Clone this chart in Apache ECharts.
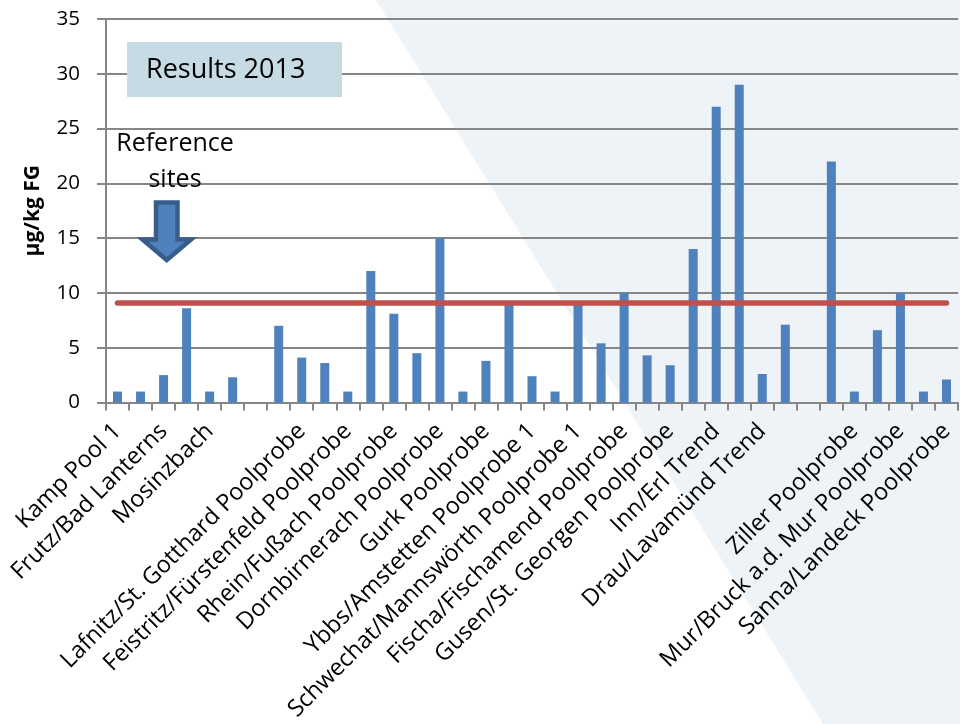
<!DOCTYPE html>
<html>
<head>
<meta charset="utf-8">
<script src="https://cdn.jsdelivr.net/npm/echarts@6/dist/echarts.min.js"></script>
<style>
html,body{margin:0;padding:0;background:#fff;}
#chart{width:960px;height:724px;}
</style>
</head>
<body>
<div id="chart"></div>
<script>
// Category slots (labels shown on every second slot in the original; unreadable ones left blank)
const categories = [
  'Kamp Pool 1', '', 'Frutz/Bad Lanterns', '', 'Mosinzbach', '', '', '',
  'Lafnitz/St. Gotthard Poolprobe', '', 'Feistritz/Fürstenfeld Poolprobe', '',
  'Rhein/Fußach Poolprobe', '', 'Dornbirnerach Poolprobe', '', 'Gurk Poolprobe', '',
  'Ybbs/Amstetten Poolprobe 1', '', 'Schwechat/Mannswörth Poolprobe 1', '',
  'Fischa/Fischamend Poolprobe', '', 'Gusen/St. Georgen Poolprobe', '',
  'Inn/Erl Trend', '', 'Drau/Lavamünd Trend', '', '', '',
  'Ziller Poolprobe', '', 'Mur/Bruck a.d. Mur Poolprobe', '', 'Sanna/Landeck Poolprobe'
];
const values = [
  1, 1, 2.5, 8.6, 1, 2.3, null, 7.0, 4.1, 3.6, 1, 12, 8.1, 4.5, 15, 1, 3.8, 9.0,
  2.4, 1, 9.0, 5.4, 10, 4.3, 3.4, 14, 27, 29, 2.6, 7.1, null, 22, 1, 6.6, 10, 1, 2.1
];
const limitValue = 9.1;
const yTicks = { min: 0, max: 35, interval: 5 };
const yAxisName = 'µg/kg FG';
const boxTitle = 'Results 2013';
const noteLines = ['Reference', 'sites'];

const FONT = '"Open Sans", sans-serif';
const chart = echarts.init(document.getElementById('chart'), null, { renderer: 'canvas' });
chart.setOption({
  animation: false,
  backgroundColor: '#ffffff',
  grid: { left: 106, right: 2, top: 19, bottom: 320, containLabel: false },
  xAxis: {
    type: 'category',
    data: categories,
    boundaryGap: true,
    axisLine: { show: true, lineStyle: { color: '#868686', width: 2 } },
    axisTick: { show: true, interval: 0, length: 8, lineStyle: { color: '#868686', width: 2 } },
    axisLabel: { interval: 0, rotate: 45, margin: 25, color: '#000', fontFamily: FONT, fontSize: 23.5 },
    splitLine: { show: false }
  },
  yAxis: {
    type: 'value',
    min: yTicks.min, max: yTicks.max, interval: yTicks.interval,
    name: yAxisName,
    nameLocation: 'middle',
    nameGap: 62,
    nameRotate: 90,
    nameTextStyle: { color: '#000', fontFamily: FONT, fontSize: 21, fontWeight: 'bold' },
    axisLine: { show: true, lineStyle: { color: '#868686', width: 2 } },
    axisTick: { show: true, length: 9, lineStyle: { color: '#868686', width: 2 } },
    axisLabel: { margin: 26, color: '#000', fontFamily: FONT, fontSize: 20.5 },
    splitLine: { show: true, lineStyle: { color: '#868686', width: 2 } }
  },
  graphic: [
    {
      type: 'polygon', z: -10, silent: true,
      shape: { points: [[376, 0], [960, 0], [960, 724], [823, 724]] },
      style: { fill: '#EEF3F7' }
    },
    {
      type: 'rect', z: 50, silent: true,
      shape: { x: 127, y: 42, width: 215, height: 55 },
      style: { fill: '#C7DBE5' }
    },
    {
      type: 'text', z: 51, silent: true,
      x: 146, y: 70,
      style: { text: boxTitle, fill: '#000', font: '27px ' + FONT, textAlign: 'left', textVerticalAlign: 'middle' }
    },
    {
      type: 'text', z: 51, silent: true,
      x: 175, y: 144,
      style: { text: noteLines[0], fill: '#000', font: '25px ' + FONT, textAlign: 'center', textVerticalAlign: 'middle' }
    },
    {
      type: 'text', z: 51, silent: true,
      x: 175, y: 180,
      style: { text: noteLines[1], fill: '#000', font: '25px ' + FONT, textAlign: 'center', textVerticalAlign: 'middle' }
    },
    {
      type: 'polygon', z: 51, silent: true,
      shape: { points: [[156, 202.5], [177.5, 202.5], [177.5, 239.5], [191, 239.5], [166.7, 260], [142.5, 239.5], [156, 239.5]] },
      style: { fill: '#4F81BD', stroke: '#385D8A', lineWidth: 4.5, lineJoin: 'miter' }
    }
  ],
  series: [
    {
      type: 'bar',
      data: values,
      barWidth: 9,
      itemStyle: { color: '#4F81BD' },
      markLine: {
        silent: true,
        symbol: ['none', 'none'],
        label: { show: false },
        lineStyle: { color: '#C0504D', width: 5.5, type: 'solid', cap: 'round' },
        data: [[{ coord: [0, limitValue] }, { coord: [categories.length - 1, limitValue] }]]
      }
    }
  ]
});
</script>
</body>
</html>
